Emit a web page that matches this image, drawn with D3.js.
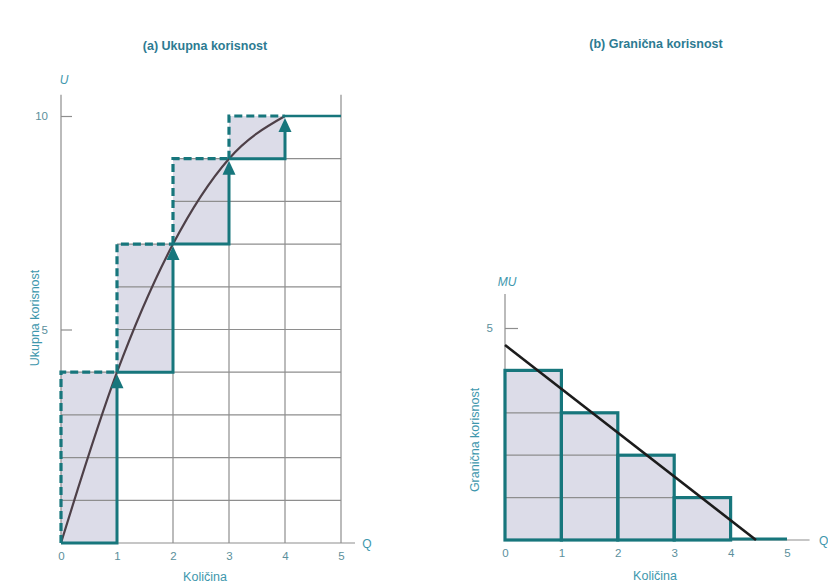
<!DOCTYPE html>
<html><head><meta charset="utf-8">
<script src="https://cdn.jsdelivr.net/npm/d3@7"></script>
<style>
body{margin:0;background:#fff;}
text{font-family:"Liberation Sans",Arial,sans-serif;}
</style></head>
<body><svg id="c" width="828" height="584"></svg>
<script>
// ---- data ----
const quantities = [0, 1, 2, 3, 4, 5];
const totalUtility = [0, 4, 7, 9, 10, 10];
const marginalUtility = [4, 3, 2, 1, 0];
const muLineQ = [0, 4.45];
const muLineValue = [4.6, 0];
const xTicks = [0, 1, 2, 3, 4, 5];
const tuTicks = [5, 10];
const muTicks = [5];
const titles = ["(a) Ukupna korisnost", "(b) Granična korisnost"];
const yLabels = ["Ukupna korisnost", "Granična korisnost"];
const xLabel = "Količina";

const teal = "#17767c", shade = "#dcdce8", grid = "#8e8e8e", txt = "#3e97ad", curveCol = "#4e4048";
const svg = d3.select("#c");

// ---------- Panel (a) ----------
const xa = d3.scaleLinear().domain([0, 5]).range([61, 341]);
const ya = d3.scaleLinear().domain([0, 10]).range([543, 116]);
const ga = svg.append("g");

// shaded boxes
const steps = d3.range(1, 5);
ga.selectAll("rect.box").data(steps).join("rect").attr("class", "box")
  .attr("x", i => xa(i - 1)).attr("width", i => xa(i) - xa(i - 1))
  .attr("y", i => ya(totalUtility[i])).attr("height", i => ya(totalUtility[i - 1]) - ya(totalUtility[i]))
  .attr("fill", shade);

// grid (staircase)
for (let k = 1; k <= 9; k++) {
  const i = totalUtility.findIndex(v => v >= k);
  ga.append("line").attr("x1", xa(i - 1)).attr("x2", xa(5)).attr("y1", ya(k)).attr("y2", ya(k))
    .attr("stroke", grid).attr("stroke-width", 1.2);
}
for (let j = 2; j <= 4; j++) {
  ga.append("line").attr("x1", xa(j)).attr("x2", xa(j)).attr("y1", ya(0)).attr("y2", ya(totalUtility[j - 1]))
    .attr("stroke", grid).attr("stroke-width", 1.2);
}
ga.append("line").attr("x1", xa(5)).attr("x2", xa(5)).attr("y1", ya(0)).attr("y2", ya(10.5))
  .attr("stroke", grid).attr("stroke-width", 1.2);

// axes lines
ga.append("line").attr("x1", xa(0)).attr("x2", xa(0)).attr("y1", ya(0)).attr("y2", ya(10.5))
  .attr("stroke", grid).attr("stroke-width", 1.2);
ga.append("line").attr("x1", xa(0)).attr("x2", xa(5.25)).attr("y1", ya(0)).attr("y2", ya(0))
  .attr("stroke", grid).attr("stroke-width", 1.2);

// curve
const curvePts = quantities.slice(0, 5).map((q, i) => [q, totalUtility[i]]);
ga.append("path").datum(curvePts)
  .attr("d", d3.line().x(d => xa(d[0])).y(d => ya(d[1])).curve(d3.curveMonotoneX))
  .attr("fill", "none").attr("stroke", curveCol).attr("stroke-width", 2.2);

// dashed left and top edges
steps.forEach(i => {
  ga.append("path")
    .attr("d", `M${xa(i - 1)},${ya(totalUtility[i - 1])}V${ya(totalUtility[i])}H${xa(i)}`)
    .attr("fill", "none").attr("stroke", teal).attr("stroke-width", 3.2)
    .attr("stroke-dasharray", "8,4");
});
// solid bottom and right edges + arrowheads
steps.forEach(i => {
  ga.append("path")
    .attr("d", `M${xa(i - 1)},${ya(totalUtility[i - 1])}H${xa(i)}V${ya(totalUtility[i]) + 8}`)
    .attr("fill", "none").attr("stroke", teal).attr("stroke-width", 3);
  const tx = xa(i), ty = ya(totalUtility[i]) + 2;
  ga.append("path").attr("d", `M${tx},${ty}L${tx - 6.5},${ty + 14}L${tx + 6.5},${ty + 14}Z`).attr("fill", teal);
});
// flat segment after Q=4
ga.append("line").attr("x1", xa(4)).attr("x2", xa(5)).attr("y1", ya(totalUtility[5])).attr("y2", ya(totalUtility[5]))
  .attr("stroke", teal).attr("stroke-width", 2.5);

// tick labels via axes
ga.append("g").attr("transform", `translate(0,${ya(0)})`)
  .call(d3.axisBottom(xa).tickValues(xTicks).tickSize(0).tickPadding(9).tickFormat(d3.format("d")));
ga.append("g").attr("transform", `translate(${xa(0)},0)`)
  .call(d3.axisLeft(ya).tickValues(tuTicks).tickSize(-11).tickPadding(13).tickFormat(d3.format("d")));

ga.append("text").attr("x", 205).attr("y", 50).attr("text-anchor", "middle").attr("font-size", 12.5)
  .attr("font-weight", "bold").attr("fill", "#2d7b92").text(titles[0]);
ga.append("text").attr("x", xa(0) + 3).attr("y", 84).attr("text-anchor", "middle").attr("font-size", 12)
  .attr("font-style", "italic").attr("fill", txt).text("U");
ga.append("text").attr("x", 367).attr("y", 548).attr("text-anchor", "middle").attr("font-size", 12)
  .attr("fill", txt).text("Q");
ga.append("text").attr("x", 205).attr("y", 581).attr("text-anchor", "middle").attr("font-size", 12.5)
  .attr("fill", txt).text(xLabel);
ga.append("text").attr("transform", "translate(39,318) rotate(-90)").attr("text-anchor", "middle")
  .attr("font-size", 12.5).attr("fill", txt).text(yLabels[0]);

// ---------- Panel (b) ----------
const xb = d3.scaleLinear().domain([0, 5]).range([505, 787]);
const yb = d3.scaleLinear().domain([0, 5]).range([540, 328]);
const gb = svg.append("g");

const barIdx = d3.range(marginalUtility.length).filter(i => marginalUtility[i] > 0);
gb.selectAll("rect.bar").data(barIdx).join("rect").attr("class", "bar")
  .attr("x", i => xb(i)).attr("width", xb(1) - xb(0))
  .attr("y", i => yb(marginalUtility[i])).attr("height", i => yb(0) - yb(marginalUtility[i]))
  .attr("fill", shade);
for (let k = 1; k <= 3; k++) {
  const n = marginalUtility.filter(v => v > k).length;
  gb.append("line").attr("x1", xb(0)).attr("x2", xb(n)).attr("y1", yb(k)).attr("y2", yb(k))
    .attr("stroke", grid).attr("stroke-width", 1.2);
}
// axes
gb.append("line").attr("x1", xb(0)).attr("x2", xb(0)).attr("y1", yb(0)).attr("y2", yb(5.8))
  .attr("stroke", grid).attr("stroke-width", 1.2);
gb.append("line").attr("x1", xb(0)).attr("x2", xb(5.4)).attr("y1", yb(0)).attr("y2", yb(0))
  .attr("stroke", grid).attr("stroke-width", 1.2);
gb.selectAll("rect.barO").data(barIdx).join("rect").attr("class", "barO")
  .attr("x", i => xb(i)).attr("width", xb(1) - xb(0))
  .attr("y", i => yb(marginalUtility[i])).attr("height", i => yb(0) - yb(marginalUtility[i]))
  .attr("fill", "none").attr("stroke", teal).attr("stroke-width", 3.2);
// zero bar
marginalUtility.forEach((v, i) => {
  if (v === 0) gb.append("line").attr("x1", xb(i)).attr("x2", xb(i + 1)).attr("y1", yb(0) - 1).attr("y2", yb(0) - 1)
    .attr("stroke", teal).attr("stroke-width", 3.2);
});
// MU line
gb.append("line").attr("x1", xb(muLineQ[0])).attr("y1", yb(muLineValue[0]))
  .attr("x2", xb(muLineQ[1])).attr("y2", yb(muLineValue[1]))
  .attr("stroke", "#1c1c1c").attr("stroke-width", 2.6);

gb.append("g").attr("transform", `translate(0,${yb(0)})`)
  .call(d3.axisBottom(xb).tickValues(xTicks).tickSize(0).tickPadding(9).tickFormat(d3.format("d")));
gb.append("g").attr("transform", `translate(${xb(0)},0)`)
  .call(d3.axisLeft(yb).tickValues(muTicks).tickSize(-13).tickPadding(12).tickFormat(d3.format("d")));

gb.append("text").attr("x", 656).attr("y", 48).attr("text-anchor", "middle").attr("font-size", 12.5)
  .attr("font-weight", "bold").attr("fill", "#2d7b92").text(titles[1]);
gb.append("text").attr("x", 507).attr("y", 286).attr("text-anchor", "middle").attr("font-size", 12)
  .attr("font-style", "italic").attr("fill", txt).text("MU");
gb.append("text").attr("x", 819).attr("y", 545).attr("text-anchor", "start").attr("font-size", 12)
  .attr("fill", txt).text("Q");
gb.append("text").attr("x", 655).attr("y", 580).attr("text-anchor", "middle").attr("font-size", 12.5)
  .attr("fill", txt).text(xLabel);
gb.append("text").attr("transform", "translate(479,440) rotate(-90)").attr("text-anchor", "middle")
  .attr("font-size", 12.5).attr("fill", txt).text(yLabels[1]);

// axis styling
svg.selectAll(".domain").remove();
svg.selectAll(".tick line").attr("stroke", grid).attr("stroke-width", 1.2);
svg.selectAll(".tick text").attr("fill", "#5b8f9c").attr("font-size", 11.5)
  .style("font-family", '"Liberation Sans",Arial,sans-serif');
</script></body></html>
